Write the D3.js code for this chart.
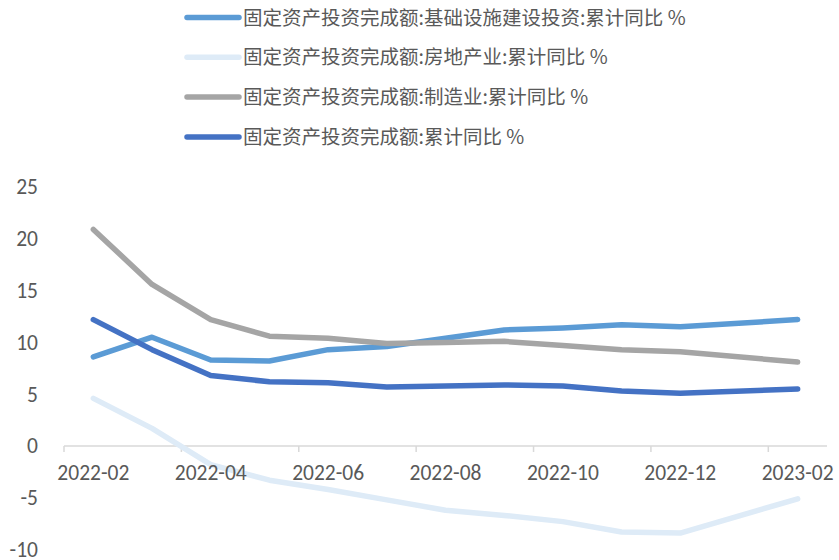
<!DOCTYPE html>
<html>
<head>
<meta charset="utf-8">
<script src="https://cdn.jsdelivr.net/npm/d3@7"></script>
<style>
  body { margin: 0; background: #fff; }
  svg { display: block; }
</style>
</head>
<body>
<div id="chart"></div>
<script>
// months with data (2023-01 has no release, so it is skipped)
var months = ["2022-02","2022-03","2022-04","2022-05","2022-06","2022-07","2022-08","2022-09","2022-10","2022-11","2022-12","2023-02"]

var infra = [8.6, 10.5, 8.3, 8.2, 9.3, 9.6, 10.4, 11.2, 11.4, 11.7, 11.5, 12.2]
var realEstate = [4.6, 1.7, -1.8, -3.3, -4.2, -5.2, -6.2, -6.7, -7.3, -8.3, -8.4, -5.1]
var manufacturing = [20.9, 15.6, 12.2, 10.6, 10.4, 9.9, 10.0, 10.1, 9.7, 9.3, 9.1, 8.1]
var total = [12.2, 9.3, 6.8, 6.2, 6.1, 5.7, 5.8, 5.9, 5.8, 5.3, 5.1, 5.5]

var seriesNames = [
    "固定资产投资完成额:基础设施建设投资:累计同比 %",
    "固定资产投资完成额:房地产业:累计同比 %",
    "固定资产投资完成额:制造业:累计同比 %",
    "固定资产投资完成额:累计同比 %"
]
var yTicks = [-10, -5, 0, 5, 10, 15, 20, 25]

var colors = ["#5B9BD5", "#DEEBF7", "#A5A5A5", "#4472C4"]
var allSeries = [infra, realEstate, manufacturing, total]

var width = 839
var height = 560

var svg = d3.select("#chart")
    .append("svg")
    .attr("width", width)
    .attr("height", height)

// date axis: every month gets a slot, even the one without data
var parse = d3.timeParse("%Y-%m")
var fmt = d3.timeFormat("%Y-%m")
var axisMonths = d3.timeMonth.range(parse(months[0]), d3.timeMonth.offset(parse(months[months.length - 1]), 1)).map(fmt)

var x = d3.scaleBand()
    .domain(axisMonths)
    .range([64, 827])
    .padding(0)

var y = d3.scaleLinear()
    .domain([-10, 25])
    .range([549.6, 187])

var xc = function(m){ return x(m) + x.bandwidth() / 2 }

// y labels (no axis line, no grid)
svg.append("g")
    .attr("font-family", "Carlito, Lato, sans-serif")
    .attr("font-size", 21.5)
    .attr("fill", "#595959")
    .attr("text-anchor", "end")
  .selectAll("text")
  .data(yTicks)
  .enter()
  .append("text")
    .attr("x", 38)
    .attr("y", d => y(d))
    .attr("dy", "0.34em")
    .text(d => d)

// x axis sits at zero
var y0 = y(0)
svg.append("line")
    .attr("x1", x.range()[0])
    .attr("x2", x.range()[1])
    .attr("y1", y0)
    .attr("y2", y0)
    .attr("stroke", "#D9D9D9")
    .attr("stroke-width", 1.5)

var tickMonths = axisMonths.filter((m, i) => i % 2 == 0)

svg.append("g")
  .selectAll("line")
  .data(tickMonths)
  .enter()
  .append("line")
    .attr("x1", d => x(d))
    .attr("x2", d => x(d))
    .attr("y1", y0)
    .attr("y2", y0 + 6)
    .attr("stroke", "#D9D9D9")
    .attr("stroke-width", 1.5)

// lines
var line = d3.line()
    .x((d, i) => xc(months[i]))
    .y(d => y(d))

svg.append("g")
  .selectAll("path")
  .data(allSeries)
  .enter()
  .append("path")
    .attr("d", d => line(d))
    .attr("fill", "none")
    .attr("stroke", (d, i) => colors[i])
    .attr("stroke-width", 5.5)
    .attr("stroke-linejoin", "round")
    .attr("stroke-linecap", "round")

// month labels drawn over the lines
svg.append("g")
    .attr("font-family", "Carlito, Lato, sans-serif")
    .attr("font-size", 21.5)
    .attr("fill", "#595959")
    .attr("text-anchor", "middle")
  .selectAll("text")
  .data(tickMonths)
  .enter()
  .append("text")
    .attr("x", d => xc(d))
    .attr("y", y0 + 27)
    .attr("dy", "0.34em")
    .text(d => d)

// legend at the top
var legend = svg.append("g")
  .selectAll("g")
  .data(seriesNames)
  .enter()
  .append("g")
    .attr("transform", (d, i) => "translate(0," + (17.5 + i * 39.8) + ")")

legend.append("line")
    .attr("x1", 187)
    .attr("x2", 239)
    .attr("stroke", (d, i) => colors[i])
    .attr("stroke-width", 5.5)
    .attr("stroke-linecap", "round")

legend.append("text")
    .attr("x", 243)
    .attr("dy", "0.36em")
    .attr("font-family", "'Noto Sans CJK SC', sans-serif")
    .attr("font-size", 19.5)
    .attr("fill", "#595959")
    .text(d => d)
</script>
</body>
</html>
